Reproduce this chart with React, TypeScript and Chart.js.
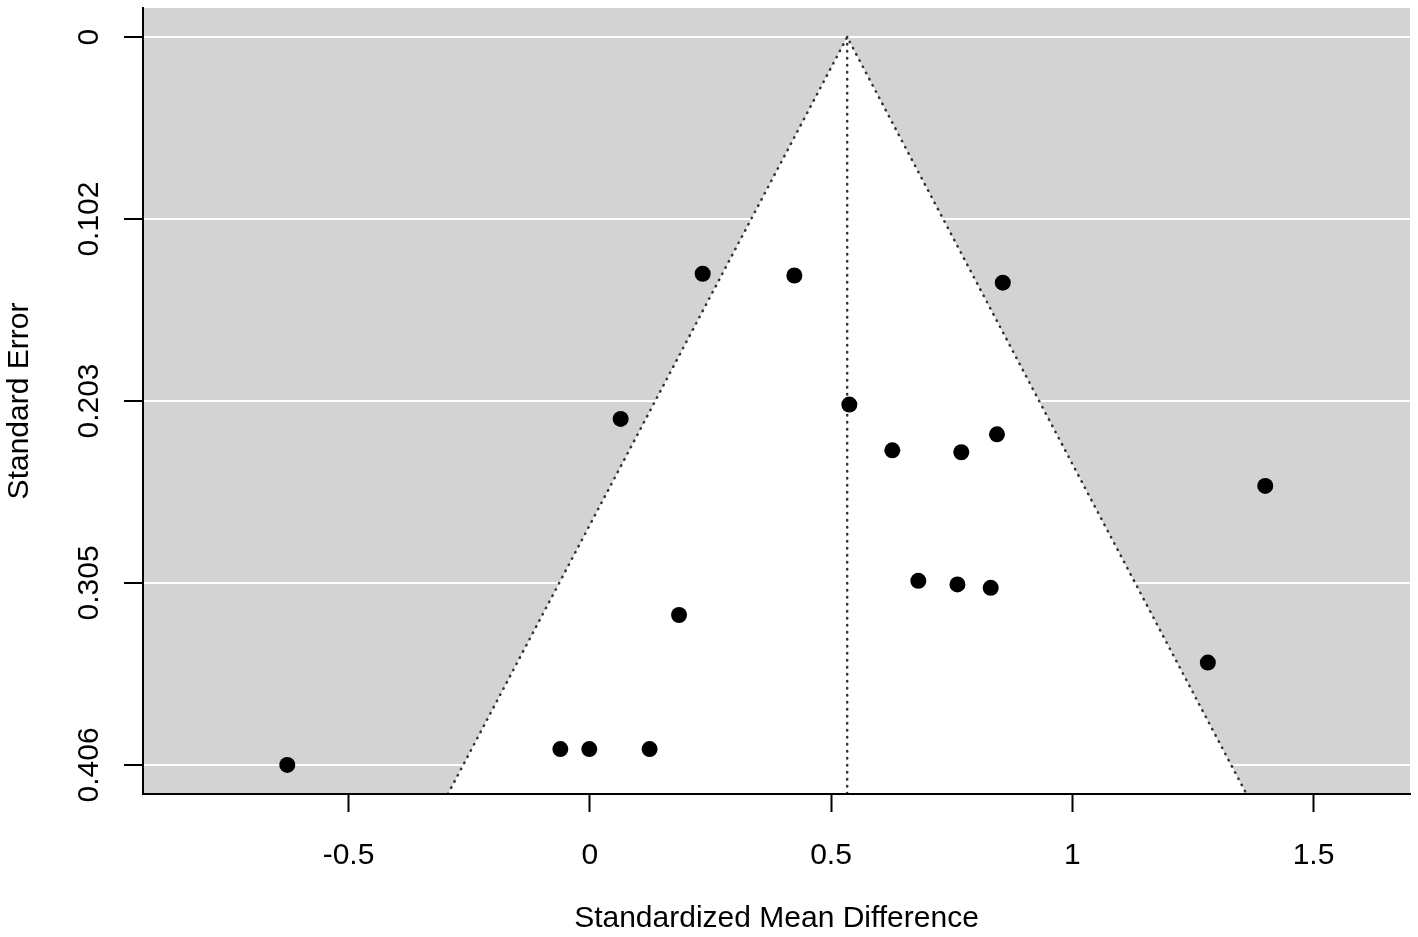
import React, { useEffect, useRef } from "react";
import { Chart, registerables } from "chart.js";

Chart.register(...registerables);

// Study effect sizes (standardized mean difference) and their standard errors
const effectSizes = [
  0.234, 0.424, 0.856, 0.064, 0.538, 0.627, 0.77, 0.844, 1.4, 0.681, 0.762, 0.831,
  0.185, 1.281, -0.061, -0.001, 0.124, -0.627,
];
const standardErrors = [
  0.132, 0.133, 0.137, 0.213, 0.205, 0.2305, 0.2316, 0.2216, 0.2504, 0.3033, 0.3053,
  0.3072, 0.3224, 0.3489, 0.3972, 0.3972, 0.3972, 0.406,
];

const pooledEstimate = 0.5335;
const zCritical = 1.96;

const xTickValues = [-0.5, 0, 0.5, 1, 1.5];
const xTickLabels = ["-0.5", "0", "0.5", "1", "1.5"];
const yTickValues = [0, 0.1015, 0.203, 0.3045, 0.406];
const yTickLabels = ["0", "0.102", "0.203", "0.305", "0.406"];

const xLimits = [-0.926, 1.7];
const yLimits = [-0.01624, 0.42224];

const xTitle = "Standardized Mean Difference";
const yTitle = "Standard Error";

const FONT = '"Liberation Sans", Arial, Helvetica, sans-serif';

export default function App() {
  const canvasRef = useRef<HTMLCanvasElement | null>(null);

  useEffect(() => {
    if (!canvasRef.current) return;
    const seMax = yLimits[1];

    const points = effectSizes.map((x, i) => ({ x, y: standardErrors[i] }));
    const funnel = [
      { x: pooledEstimate - zCritical * seMax, y: seMax },
      { x: pooledEstimate, y: 0 },
      { x: pooledEstimate + zCritical * seMax, y: seMax },
    ];
    const centerLine = [
      { x: pooledEstimate, y: 0 },
      { x: pooledEstimate, y: seMax },
    ];

    const backgroundPlugin = {
      id: "plotBackground",
      beforeDraw(chart: any) {
        const { ctx, chartArea } = chart;
        ctx.save();
        ctx.fillStyle = "#d3d3d3";
        ctx.fillRect(chartArea.left, chartArea.top, chartArea.right - chartArea.left, chartArea.bottom - chartArea.top);
        ctx.restore();
      },
    };

    const yLabelPlugin = {
      id: "rotatedYLabels",
      afterDraw(chart: any) {
        const { ctx } = chart;
        const ys = chart.scales.y;
        ctx.save();
        ctx.font = `30px ${FONT}`;
        ctx.fillStyle = "#000";
        ctx.textAlign = "center";
        ctx.textBaseline = "middle";
        yTickValues.forEach((v, i) => {
          const py = ys.getPixelForValue(v);
          ctx.save();
          ctx.translate(90, py);
          ctx.rotate(-Math.PI / 2);
          ctx.fillText(yTickLabels[i], 0, 0);
          ctx.restore();
        });
        ctx.restore();
      },
    };

    const dotted = {
      borderColor: "#333",
      borderWidth: 2.5,
      borderDash: [0.5, 6.5],
      borderCapStyle: "round",
    };

    const chart = new Chart(canvasRef.current, {
      type: "scatter",
      data: {
        datasets: [
          {
            data: points,
            backgroundColor: "#000",
            borderColor: "#000",
            pointRadius: 8,
            pointHoverRadius: 8,
            borderWidth: 0,
            order: 0,
          },
          {
            data: centerLine,
            showLine: true,
            pointRadius: 0,
            ...dotted,
            fill: false,
            order: 1,
          } as any,
          {
            data: funnel,
            showLine: true,
            pointRadius: 0,
            ...dotted,
            backgroundColor: "#ffffff",
            fill: { value: seMax },
            order: 2,
          } as any,
        ],
      },
      options: {
        responsive: false,
        animation: false,
        events: [],
        layout: { padding: { top: 7, right: 8, left: 0, bottom: 0 } },
        plugins: { legend: { display: false }, tooltip: { enabled: false } },
        scales: {
          x: {
            type: "linear",
            min: xLimits[0],
            max: xLimits[1],
            afterBuildTicks: (s: any) => {
              s.ticks = xTickValues.map((v) => ({ value: v }));
            },
            afterFit: (s: any) => {
              s.height = 143;
            },
            ticks: {
              autoSkip: false,
              maxRotation: 0,
              minRotation: 0,
              padding: 26,
              color: "#000",
              font: { family: FONT, size: 30 },
              callback: (value: any) => {
                const i = xTickValues.indexOf(Number(value));
                return i >= 0 ? xTickLabels[i] : "";
              },
            },
            grid: {
              drawOnChartArea: false,
              drawTicks: true,
              tickLength: 18,
              tickColor: "#000",
              tickWidth: 2,
            },
            border: { display: true, color: "#000", width: 2, z: 1 },
            title: {
              display: true,
              text: xTitle,
              color: "#000",
              font: { family: FONT, size: 30, lineHeight: 1.2 },
              padding: { top: 0, bottom: 0 },
            },
          },
          y: {
            type: "linear",
            reverse: true,
            min: yLimits[0],
            max: yLimits[1],
            afterBuildTicks: (s: any) => {
              s.ticks = yTickValues.map((v) => ({ value: v }));
            },
            afterFit: (s: any) => {
              s.width = 143;
            },
            ticks: { display: false },
            grid: {
              color: "#ffffff",
              lineWidth: 2,
              drawTicks: true,
              tickLength: 19,
              tickColor: "#000",
              tickWidth: 2,
            },
            border: { display: true, color: "#000", width: 2, z: 1 },
            title: {
              display: true,
              text: yTitle,
              color: "#000",
              font: { family: FONT, size: 30, lineHeight: 1.2 },
              padding: { top: 2, bottom: 0 },
            },
          },
        },
      },
      plugins: [backgroundPlugin, yLabelPlugin],
    });

    return () => chart.destroy();
  }, []);

  return (
    <div style={{ position: "absolute", left: 0, top: 0, width: 1418, height: 937, background: "#fff" }}>
      <canvas ref={canvasRef} width={1418} height={937} style={{ display: "block" }} />
    </div>
  );
}
